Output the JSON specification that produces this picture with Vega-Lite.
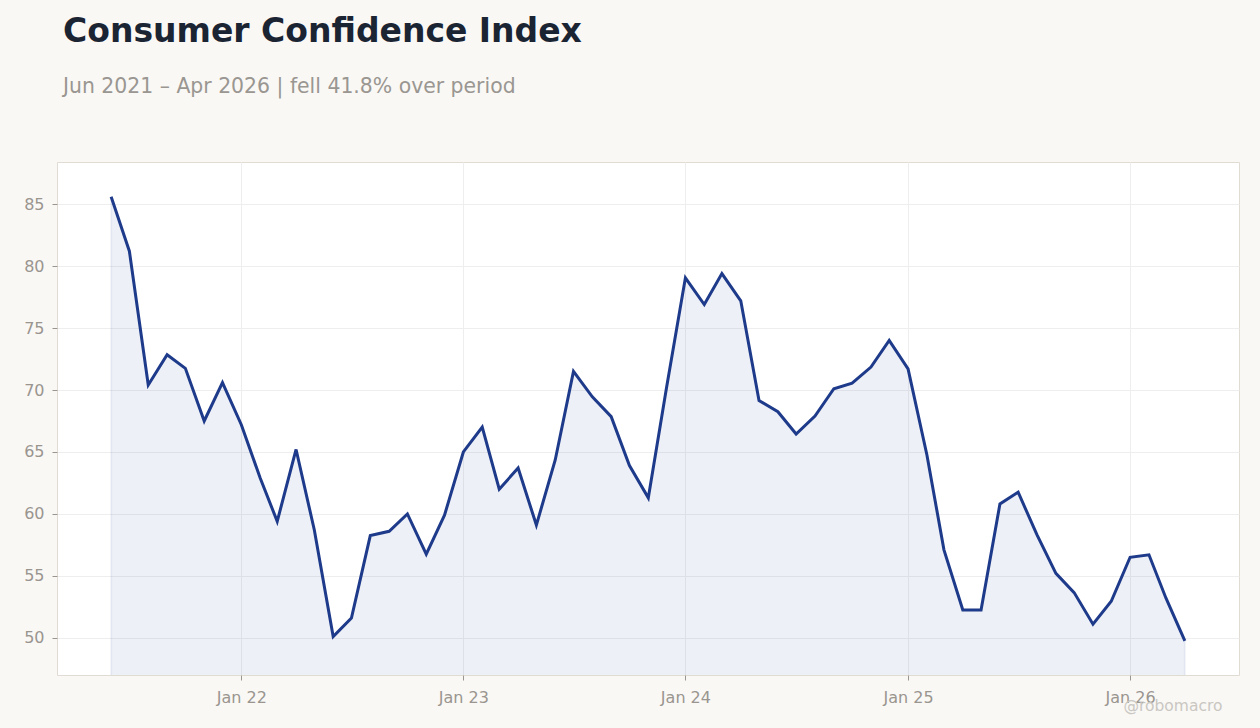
{
  "$schema": "https://vega.github.io/schema/vega-lite/v6.json",
  "width": 1182,
  "height": 513,
  "autosize": "none",
  "padding": {"left": 57, "top": 162, "right": 21, "bottom": 53},
  "background": "#f9f8f5",
  "title": {
    "text": "Consumer Confidence Index",
    "subtitle": "Jun 2021 – Apr 2026 | fell 41.8% over period",
    "anchor": "start",
    "frame": "group",
    "dx": 6,
    "offset": 65,
    "font": "DejaVu Sans",
    "fontSize": 33,
    "fontWeight": "bold",
    "color": "#1b2432",
    "subtitleFont": "DejaVu Sans",
    "subtitleFontSize": 20.4,
    "subtitleColor": "#9a9691",
    "subtitlePadding": 28
  },
  "config": {
    "view": {"fill": "white", "stroke": "#e0dbd3", "strokeWidth": 1},
    "axis": {
      "labelFont": "DejaVu Sans",
      "labelFontSize": 16,
      "labelColor": "#9a958f",
      "tickColor": "#9a958f",
      "tickSize": 5,
      "domain": false,
      "gridColor": "#eeeeee",
      "gridWidth": 1
    }
  },
  "data": {
    "values": [
      {"date": "2021-06-01", "value": 85.6},
      {"date": "2021-07-01", "value": 81.2},
      {"date": "2021-08-01", "value": 70.4},
      {"date": "2021-09-01", "value": 72.85},
      {"date": "2021-10-01", "value": 71.75},
      {"date": "2021-11-01", "value": 67.5},
      {"date": "2021-12-01", "value": 70.6},
      {"date": "2022-01-01", "value": 67.2},
      {"date": "2022-02-01", "value": 62.9},
      {"date": "2022-03-01", "value": 59.4},
      {"date": "2022-04-01", "value": 65.2},
      {"date": "2022-05-01", "value": 58.7},
      {"date": "2022-06-01", "value": 50.1},
      {"date": "2022-07-01", "value": 51.6},
      {"date": "2022-08-01", "value": 58.25},
      {"date": "2022-09-01", "value": 58.6},
      {"date": "2022-10-01", "value": 60.0},
      {"date": "2022-11-01", "value": 56.75},
      {"date": "2022-12-01", "value": 59.9},
      {"date": "2023-01-01", "value": 65.0},
      {"date": "2023-02-01", "value": 67.0},
      {"date": "2023-03-01", "value": 62.0},
      {"date": "2023-04-01", "value": 63.7},
      {"date": "2023-05-01", "value": 59.1},
      {"date": "2023-06-01", "value": 64.35},
      {"date": "2023-07-01", "value": 71.5},
      {"date": "2023-08-01", "value": 69.45},
      {"date": "2023-09-01", "value": 67.85},
      {"date": "2023-10-01", "value": 63.9},
      {"date": "2023-11-01", "value": 61.3},
      {"date": "2023-12-01", "value": 70.2},
      {"date": "2024-01-01", "value": 79.05},
      {"date": "2024-02-01", "value": 76.9},
      {"date": "2024-03-01", "value": 79.4},
      {"date": "2024-04-01", "value": 77.2},
      {"date": "2024-05-01", "value": 69.15},
      {"date": "2024-06-01", "value": 68.25},
      {"date": "2024-07-01", "value": 66.45},
      {"date": "2024-08-01", "value": 67.9},
      {"date": "2024-09-01", "value": 70.1},
      {"date": "2024-10-01", "value": 70.55},
      {"date": "2024-11-01", "value": 71.85},
      {"date": "2024-12-01", "value": 74.0},
      {"date": "2025-01-01", "value": 71.7},
      {"date": "2025-02-01", "value": 64.75},
      {"date": "2025-03-01", "value": 57.1},
      {"date": "2025-04-01", "value": 52.25},
      {"date": "2025-05-01", "value": 52.25},
      {"date": "2025-06-01", "value": 60.8},
      {"date": "2025-07-01", "value": 61.75},
      {"date": "2025-08-01", "value": 58.3},
      {"date": "2025-09-01", "value": 55.2},
      {"date": "2025-10-01", "value": 53.65},
      {"date": "2025-11-01", "value": 51.1},
      {"date": "2025-12-01", "value": 52.95},
      {"date": "2026-01-01", "value": 56.5},
      {"date": "2026-02-01", "value": 56.7},
      {"date": "2026-03-01", "value": 53.2},
      {"date": "2026-04-01", "value": 49.75}
    ]
  },
  "encoding": {
    "x": {
      "field": "date",
      "type": "temporal",
      "scale": {
        "type": "utc",
        "domain": [
          {"year": 2021, "month": 3, "date": 4, "utc": true},
          {"year": 2026, "month": 6, "date": 29, "utc": true}
        ]
      },
      "axis": {
        "title": "@robomacro",
        "titleFont": "DejaVu Sans",
        "titleFontSize": 15.5,
        "titleFontWeight": "normal",
        "titleColor": "#cac7c2",
        "titleAnchor": "end",
        "titleAlign": "right",
        "titleBaseline": "middle",
        "titleX": 1165,
        "titleY": 30,
        "format": "%b %y",
        "tickCount": {"interval": "year", "step": 1},
        "labelPadding": 9
      }
    },
    "y": {
      "field": "value",
      "type": "quantitative",
      "scale": {"domain": [47, 88.4], "nice": false, "zero": false},
      "axis": {"title": null, "values": [50, 55, 60, 65, 70, 75, 80, 85], "labelPadding": 8}
    }
  },
  "layer": [
    {
      "mark": {"type": "area", "clip": true, "color": "#1e3a8a", "fillOpacity": 0.08, "stroke": "#1e3a8a", "strokeOpacity": 0.06, "strokeWidth": 2}
    },
    {
      "mark": {"type": "line", "color": "#1e3a8a", "strokeWidth": 3, "strokeJoin": "miter"}
    }
  ]
}
